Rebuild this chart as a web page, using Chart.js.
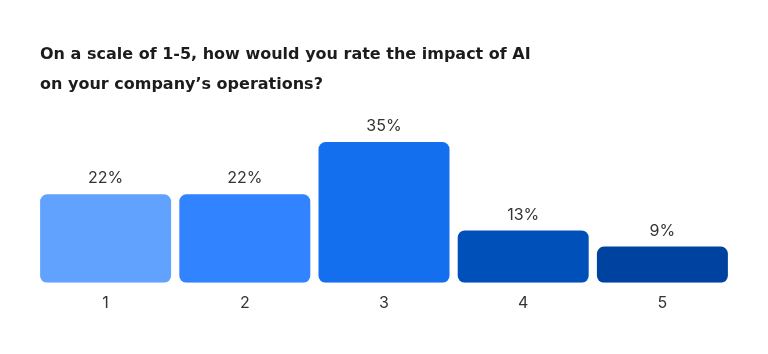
<!DOCTYPE html>
<html>
<head>
<meta charset="utf-8">
<script src="https://cdn.jsdelivr.net/npm/chart.js@4.4.1/dist/chart.umd.min.js"></script>
<style>
    html, body { margin: 0; padding: 0; background: #fff; }
    #wrap { position: relative; width: 768px; height: 354px; }
    #title {
        position: absolute; left: 40px; top: 39px;
        font-family: "DejaVu Sans", Inter, sans-serif; font-weight: 700;
        font-size: 16px; line-height: 30px; color: #1c1c1c;
    }
    canvas { position: absolute; left: 0; top: 0; }
</style>
</head>
<body>
<div id="wrap">
    <canvas id="myChart" width="768" height="354"></canvas>
    <div id="title">On a scale of 1-5, how would you rate the impact of AI<br>on your company’s operations?</div>
</div>
<script>
var ratings = ['1', '2', '3', '4', '5']; // Bewertungen
var shares = [22, 22, 35, 13, 9]; // Anteil in Prozent
var barColors = ['#62a2ff', '#3183ff', '#136fee', '#0050ba', '#0042a0'];
var yMax = 40;

// Prozentwerte über den Balken
var valueLabels = {
    id: 'valueLabels',
    afterDatasetsDraw: function (chart) {
        var ctx = chart.ctx;
        var meta = chart.getDatasetMeta(0);
        ctx.save();
        ctx.font = '400 16px Inter, "Noto Sans", sans-serif';
        ctx.fillStyle = '#333333';
        ctx.textAlign = 'center';
        ctx.textBaseline = 'alphabetic';
        meta.data.forEach(function (bar, i) {
            ctx.fillText(shares[i] + '%', bar.x, bar.y - 11);
        });
        ctx.restore();
    }
};

var ctx = document.getElementById('myChart').getContext('2d');
var myChart = new Chart(ctx, {
    type: 'bar',
    data: {
        labels: ratings,
        datasets: [{
            data: shares,
            backgroundColor: barColors,
            borderRadius: 7,
            borderSkipped: false,
            barPercentage: 0.941,
            categoryPercentage: 1
        }]
    },
    options: {
        responsive: false,
        animation: false,
        layout: {
            padding: { left: 36, right: 36, top: 122, bottom: 30 }
        },
        plugins: {
            legend: { display: false },
            tooltip: { enabled: false }
        },
        scales: {
            x: {
                grid: { display: false, drawTicks: false },
                border: { display: false },
                ticks: {
                    padding: 11,
                    color: '#333333',
                    font: { family: 'Inter, "Noto Sans", sans-serif', size: 16 }
                }
            },
            y: {
                display: false,
                min: 0,
                max: yMax
            }
        }
    },
    plugins: [valueLabels]
});
</script>
</body>
</html>
